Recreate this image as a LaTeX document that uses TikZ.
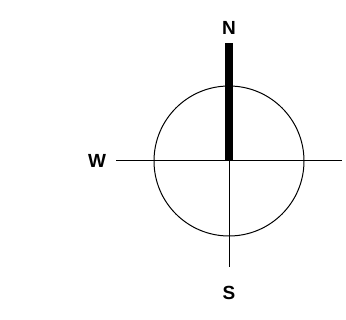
\documentclass[tikz,border=0pt]{standalone}
\usepackage{fontspec}
\setmainfont{Liberation Sans}
\begin{document}
\begin{tikzpicture}[x=1pt,y=-1pt,
  lbl/.style={font=\bfseries\fontsize{19}{19}\selectfont, inner sep=0pt},
  thin/.style={line width=1pt},
  needle/.style={line width=7.5pt}]
\useasboundingbox (0,0) rectangle (346,320);
\node[lbl] (n) at (229,28) {N};
\node[lbl] (w) at (97,161) {W};
\node[lbl] (s) at (229,293) {S};
\coordinate (c) at (229,161);
\coordinate (wend) at (116,161);
\coordinate (eend) at (342,161);
\coordinate (send) at (229,267);
\coordinate (ntip) at (229,43);
\draw[thin] (c) circle (75);
\draw[thin] (wend) -- (eend);
\draw[thin] (c) -- (send);
\draw[needle] (c) -- (ntip);
\end{tikzpicture}
\end{document}
